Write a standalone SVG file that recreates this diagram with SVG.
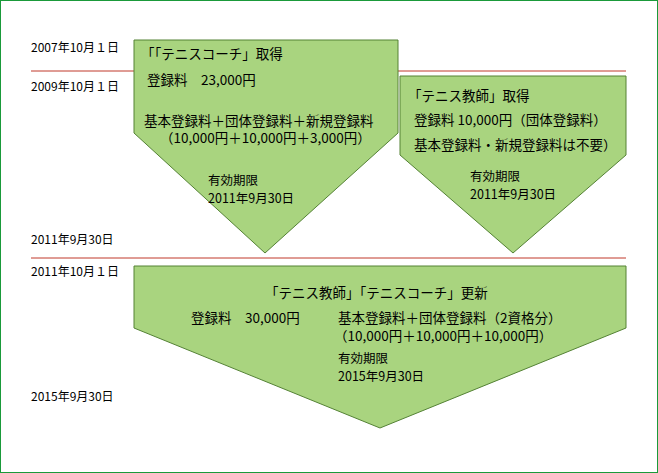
<svg xmlns="http://www.w3.org/2000/svg" width="658" height="473" viewBox="0 0 658 473">
<style>
text{font-family:"Noto Sans CJK JP","Noto Sans",sans-serif;font-size:13.5px;fill:#000}
.s{fill:#a9d47f;stroke:#548235;stroke-width:1}
.d{font-size:12px}
.e{font-size:12.5px}
</style>
<rect x="0.5" y="0.5" width="657" height="472" fill="#fff" stroke="#1a9a3a"/>
<g id="connectors">
<line x1="31" y1="71" x2="626" y2="71" stroke="#c0392b"/>
<line x1="31" y1="258" x2="626" y2="258" stroke="#c0392b"/>
</g>
<g id="dates">
<text class="d" x="31" y="52">2007年10月１日</text>
<text class="d" x="31" y="91">2009年10月１日</text>
<text class="d" x="31" y="244">2011年9月30日</text>
<text class="d" x="31" y="276">2011年10月１日</text>
<text class="d" x="31" y="401">2015年9月30日</text>
</g>
<g id="coach">
<polygon class="s" points="134,40 398,40 398,133 265,253 134,133"/>
<text x="141" y="59">「「テニスコーチ」取得</text>
<text x="147" y="85">登録料　23,000円</text>
<text x="144" y="126">基本登録料＋団体登録料＋新規登録料</text>
<text x="160" y="143">（10,000円＋10,000円＋3,000円）</text>
<text class="e" x="208" y="185">有効期限</text>
<text class="e" x="208" y="203">2011年9月30日</text>
</g>
<g id="teacher">
<polygon class="s" points="400,76 626,76 626,155 513,253 400,155"/>
<text x="408" y="101">「テニス教師」取得</text>
<text x="414" y="125">登録料 10,000円（団体登録料）</text>
<text x="414" y="150">基本登録料・新規登録料は不要）</text>
<text class="e" x="470" y="181">有効期限</text>
<text class="e" x="470" y="199">2011年9月30日</text>
</g>
<g id="renew">
<polygon class="s" points="134,266 626,266 626,328 380,428 134,328"/>
<text x="265" y="298">「テニス教師」「テニスコーチ」更新</text>
<text x="191" y="323">登録料　30,000円</text>
<text x="338" y="323">基本登録料＋団体登録料（2資格分）</text>
<text x="334" y="341">（10,000円＋10,000円＋10,000円）</text>
<text class="e" x="338" y="363">有効期限</text>
<text class="e" x="338" y="381">2015年9月30日</text>
</g>
</svg>
